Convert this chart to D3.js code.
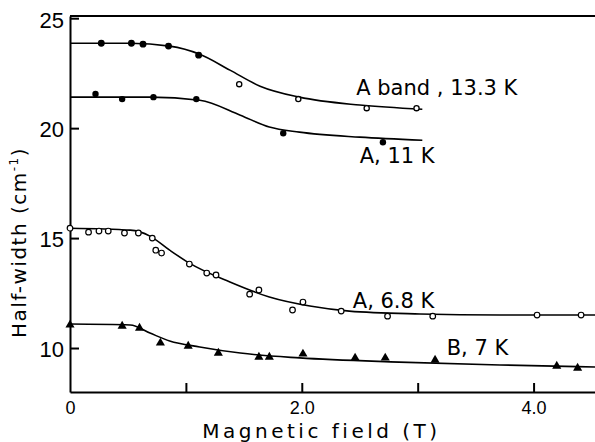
<!DOCTYPE html>
<meta charset="utf-8">
<style>
body { margin: 0; background: #fff; }
svg { display: block; font-family: "DejaVu Sans", sans-serif; }
.axis path, .axis line { stroke: #000; stroke-width: 2; fill: none; }
.curve { fill: none; stroke: #000; stroke-width: 1.6; }
.lbl { font-size: 21px; }
</style>
<body></body>
<script src="https://cdnjs.cloudflare.com/ajax/libs/d3/7.8.5/d3.min.js"></script>
<script>
// measured points, field (T) vs half-width (cm-1)
var a133 = [[0.27,23.86],[0.53,23.86],[0.63,23.82],[0.85,23.73],[1.11,23.32],[1.46,22.0],[1.97,21.32],[2.56,20.91],[2.99,20.91]];
var a133Open = [false,false,false,false,false,true,true,true,true];
var a11 = [[0.22,21.55],[0.45,21.32],[0.72,21.41],[1.09,21.32],[1.84,19.77],[2.70,19.36]];
var a68 = [[0,15.45],[0.16,15.27],[0.25,15.32],[0.33,15.32],[0.47,15.23],[0.59,15.23],[0.71,15.0],[0.74,14.45],[0.79,14.32],
           [1.03,13.82],[1.18,13.41],[1.26,13.32],[1.55,12.45],[1.63,12.64],[1.92,11.73],[2.01,12.09],[2.34,11.68],
           [2.74,11.45],[3.13,11.45],[4.03,11.5],[4.41,11.5]];
var b7 = [[0,11.05],[0.45,11.0],[0.6,10.91],[0.78,10.23],[1.02,10.09],[1.28,9.77],[1.63,9.59],[1.72,9.59],[2.01,9.73],
          [2.46,9.55],[2.72,9.55],[3.15,9.45],[4.2,9.18],[4.38,9.09]];

// hand-drawn fit curves
var fitA133 = [[0,23.86],[0.52,23.86],[0.86,23.73],[1.12,23.36],[1.38,22.64],[1.64,21.91],[1.98,21.41],[2.5,21.05],[3.04,20.86]];
var fitA11 = [[0,21.41],[0.69,21.41],[1.12,21.27],[1.47,20.59],[1.72,20.05],[1.98,19.82],[2.5,19.59],[3.04,19.45]];
var fitA68 = [[0,15.45],[0.52,15.36],[0.69,15.09],[0.86,14.45],[1.03,13.86],[1.38,13.0],[1.72,12.32],[2.07,11.91],[2.41,11.68],[3.02,11.55],[3.71,11.5],[4.53,11.5]];
var fitB7 = [[0,11.09],[0.52,11.05],[0.69,10.68],[0.86,10.32],[1.12,10.05],[1.47,9.77],[1.98,9.55],[2.84,9.36],[3.71,9.23],[4.53,9.14]];

var xTicks = [0,1,2,3,4];
var xTickLabels = ["0","","2.0","","4.0"];
var yTicks = [10,15,20,25];

var margin = {top: 16, right: 0, bottom: 50, left: 70},
    W = 595, H = 442,
    width = W - margin.left - margin.right,
    height = H - margin.top - margin.bottom;

var x = d3.scaleLinear().domain([0, 4.53]).range([0, width]);
var y = d3.scaleLinear().domain([8, 25.1]).range([height, 0]);

var svg = d3.select("body").append("svg")
    .attr("width", W).attr("height", H)
  .append("g")
    .attr("transform", "translate(" + margin.left + "," + margin.top + ")");

// frame: top line, bottom and left axes
svg.append("line").attr("x1", 0).attr("x2", width).attr("y1", 0).attr("y2", 0)
   .attr("stroke", "#000").attr("stroke-width", 2.2);

var xAxis = svg.append("g").attr("class", "axis")
    .attr("transform", "translate(0," + height + ")")
    .call(d3.axisBottom(x).tickValues(xTicks).tickSizeInner(-9).tickSizeOuter(0).tickFormat(""));
xAxis.selectAll(".tick").filter(function(d) { return d === 0; }).select("line").remove();
xAxis.selectAll(".tick").append("text")
    .attr("y", 22).attr("fill", "#000").attr("text-anchor", "middle")
    .style("font-size", "18px")
    .text(function(d, i) { return xTickLabels[i]; });

var yAxis = svg.append("g").attr("class", "axis")
    .call(d3.axisLeft(y).tickValues(yTicks).tickSizeInner(-9).tickSizeOuter(0).tickFormat(""));
yAxis.selectAll(".tick").append("text")
    .attr("x", -6).attr("dy", "0.4em").attr("fill", "#000").attr("text-anchor", "end")
    .style("font-size", "22px")
    .text(function(d) { return d; });

var yLab = svg.append("text")
    .attr("transform", "translate(-44," + y(14.8) + ") rotate(-90)")
    .attr("text-anchor", "middle")
    .style("font-size", "20px").style("letter-spacing", "1.5px");
yLab.append("tspan").text("Half-width  (cm");
yLab.append("tspan").attr("dy", -8).style("font-size", "12px").text("-1");
yLab.append("tspan").attr("dy", 8).text(")");

svg.append("text")
    .attr("x", x(2.17)).attr("y", height + 46)
    .attr("text-anchor", "middle")
    .style("font-size", "20px").style("letter-spacing", "3.5px")
    .text("Magnetic field (T)");

var line = d3.line().x(function(d) { return x(d[0]); }).y(function(d) { return y(d[1]); })
    .curve(d3.curveMonotoneX);

[fitA133, fitA11, fitA68, fitB7].forEach(function(f) {
  svg.append("path").attr("class", "curve").attr("d", line(f));
});

svg.selectAll(".p133").data(a133).enter().append("circle")
    .attr("cx", function(d) { return x(d[0]); })
    .attr("cy", function(d) { return y(d[1]); })
    .attr("r", function(d, i) { return a133Open[i] ? 2.6 : 2.8; })
    .attr("fill", function(d, i) { return a133Open[i] ? "#fff" : "#000"; })
    .attr("stroke", "#000").attr("stroke-width", 1.3);

svg.selectAll(".p11").data(a11).enter().append("circle")
    .attr("cx", function(d) { return x(d[0]); })
    .attr("cy", function(d) { return y(d[1]); })
    .attr("r", 3.2).attr("fill", "#000");

svg.selectAll(".p68").data(a68).enter().append("circle")
    .attr("cx", function(d) { return x(d[0]); })
    .attr("cy", function(d) { return y(d[1]); })
    .attr("r", 2.8).attr("fill", "#fff")
    .attr("stroke", "#000").attr("stroke-width", 1.2);

svg.selectAll(".p7").data(b7).enter().append("path")
    .attr("transform", function(d) { return "translate(" + x(d[0]) + "," + y(d[1]) + ")"; })
    .attr("d", d3.symbol().type(d3.symbolTriangle).size(36))
    .attr("fill", "#000");

// series labels
var labels = [
  {t: "A band , 13.3 K", x: 2.47, y: 21.5},
  {t: "A, 11 K", x: 2.5, y: 18.41},
  {t: "A, 6.8 K", x: 2.44, y: 11.82},
  {t: "B, 7 K", x: 3.25, y: 9.68}
];
svg.selectAll(".lbl").data(labels).enter().append("text")
    .attr("class", "lbl")
    .attr("x", function(d) { return x(d.x); })
    .attr("y", function(d) { return y(d.y); })
    .text(function(d) { return d.t; });
</script>
